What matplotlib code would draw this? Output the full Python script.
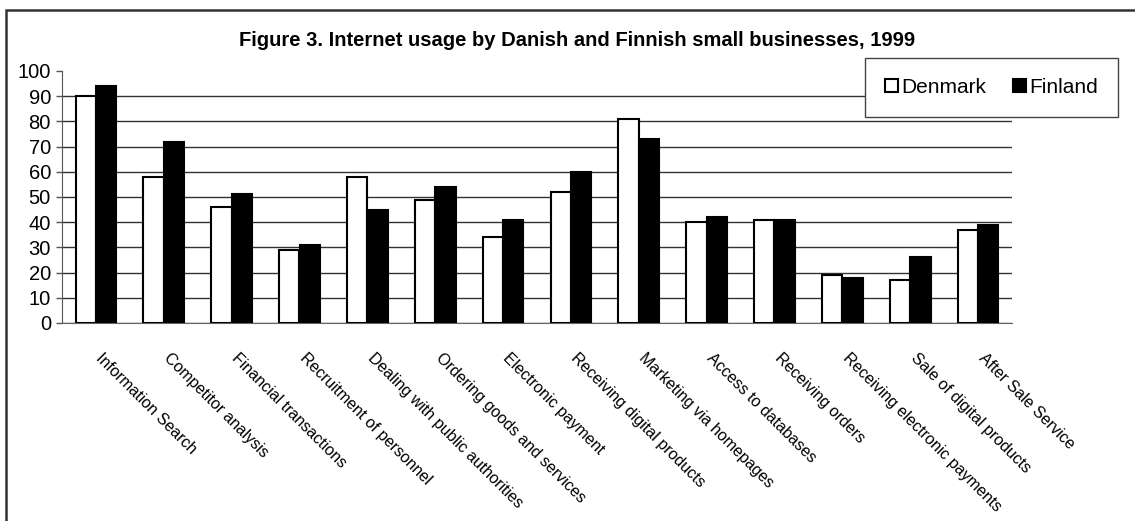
import numpy as np
import matplotlib.pyplot as plt
import matplotlib.transforms as mtransforms
from matplotlib.patches import Rectangle

plt.rcParams['font.family'] = ['Liberation Sans', 'DejaVu Sans']

categories = ["Information Search", "Competitor analysis", "Financial transactions",
              "Recruitment of personnel", "Dealing with public authorities",
              "Ordering goods and services", "Electronic payment",
              "Receiving digital products", "Marketing via homepages",
              "Access to databases", "Receiving orders",
              "Receiving electronic payments", "Sale of digital products",
              "After Sale Service"]
denmark = [90, 58, 46, 29, 58, 49, 34, 52, 81, 40, 41, 19, 17, 37]
finland = [94, 72, 51, 31, 45, 54, 41, 60, 73, 42, 41, 18, 26, 39]
yticks = list(range(0, 101, 10))

fig = plt.figure(figsize=(11.35, 5.21), dpi=100)
ax = fig.add_axes([62 / 1135, 1 - 323 / 521, 950 / 1135, 252 / 521])

x = np.arange(len(categories)) + 0.5
w = 0.3
ax.bar(x - w / 2, denmark, w, color='white', edgecolor='black', linewidth=1.5,
       label='Denmark', zorder=3)
ax.bar(x + w / 2, finland, w, color='black', edgecolor='black', linewidth=1.5,
       label='Finland', zorder=3)

ax.set_xlim(0, len(categories))
ax.set_ylim(0, 100)
ax.set_yticks(yticks)
ax.tick_params(axis='y', labelsize=14.5, length=4, width=1, pad=4, color='#555555')
ax.set_xticks(x)
ax.set_xticklabels(categories, rotation=-45, ha='left', va='top',
                   rotation_mode='anchor', fontsize=11.5)
ax.tick_params(axis='x', length=0, pad=20)
shift = mtransforms.ScaledTranslation(8 / 100, 0, fig.dpi_scale_trans)
for lbl in ax.get_xticklabels():
    lbl.set_transform(lbl.get_transform() + shift)

ax.yaxis.grid(True, color='#333333', linewidth=1, zorder=0)
ax.get_ygridlines()[-1].set_visible(False)
for s in ['top', 'right']:
    ax.spines[s].set_visible(False)
ax.spines['left'].set_color('#555555')
ax.spines['bottom'].set_color('#666666')

fig.text(0.508, 1 - 40 / 521,
         'Figure 3. Internet usage by Danish and Finnish small businesses, 1999',
         ha='center', va='center', fontsize=14.5, fontweight='bold')

leg = fig.legend(loc='upper left', bbox_to_anchor=(865 / 1135, 1 - 58 / 521), ncol=2,
                 fontsize=15, frameon=True, fancybox=False, edgecolor='#444444',
                 framealpha=1, handlelength=0.65, handleheight=0.65, handletextpad=0.15,
                 columnspacing=1.25, borderpad=0.95, borderaxespad=0)
leg.get_frame().set_linewidth(1)

fig.patches.append(Rectangle((6 / 1135, -0.1), 1.2, 1.1 - 10 / 521,
                             transform=fig.transFigure, fill=False,
                             edgecolor='#333333', linewidth=1.8))

fig.savefig('out.png', dpi=100)
